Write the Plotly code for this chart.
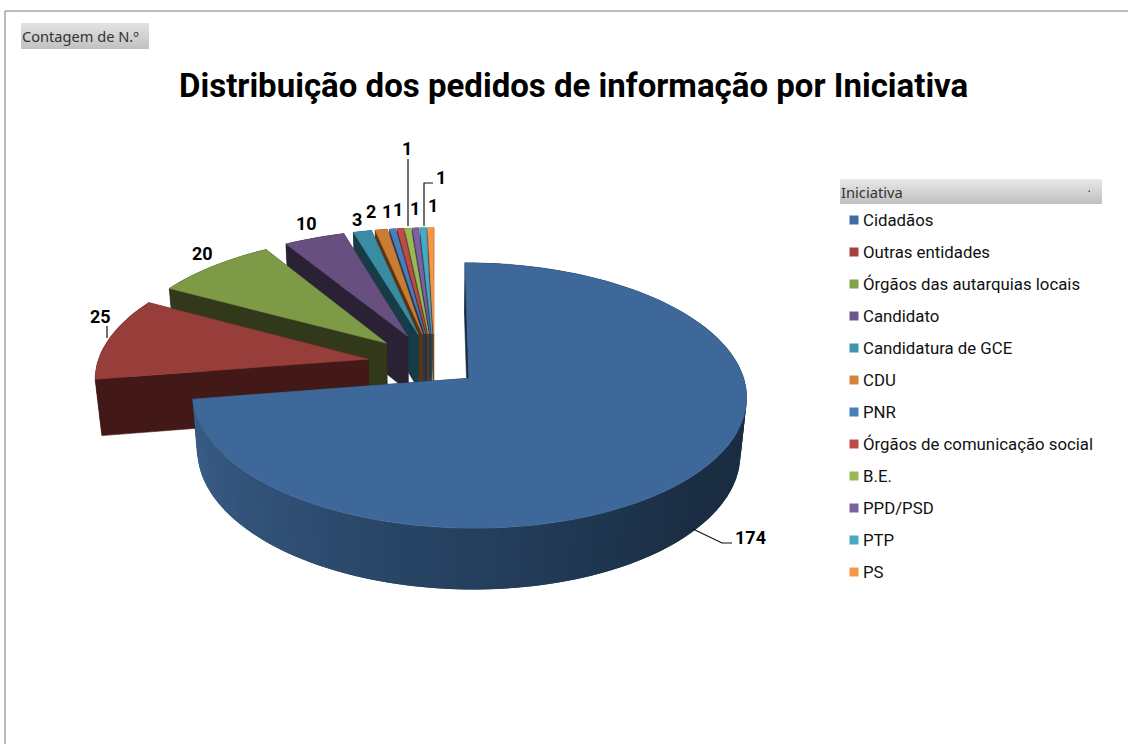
import math
import plotly.graph_objects as go

categories = ["Cidadãos", "Outras entidades", "Órgãos das autarquias locais", "Candidato",
              "Candidatura de GCE", "CDU", "PNR", "Órgãos de comunicação social",
              "B.E.", "PPD/PSD", "PTP", "PS"]
values = [174, 25, 20, 10, 3, 2, 1, 1, 1, 1, 1, 1]
top_colors = ["#3E6899", "#973E3B", "#7D9A46", "#674F80", "#3A8CA3", "#C97D33",
              "#4A7EBB", "#BE4B48", "#98B954", "#7D60A0", "#46AAC5", "#F79646"]
wall_colors = ["#1A2D42", "#421917", "#31391A", "#2B2135", "#173C45", "#5A3512",
               "#20375A", "#52201F", "#425024", "#362A46", "#1E4A56", "#6B411E"]
legend_colors = ["#3F6CA3", "#A5413E", "#85A24A", "#6E5590", "#3E95AD", "#D6843A",
                 "#4A7EBB", "#BE4B48", "#98B954", "#7D60A0", "#46AAC5", "#F79646"]
# (x, y) of each value label in the picture
label_pos = [(750, 537), (100, 316), (202, 253), (306, 223), (357, 219), (371, 211),
             (387, 211), (398, 209), (407, 148), (415, 208), (441, 177), (433, 205)]
leaders = [[(693, 529), (722, 543), (732, 543)], [(107, 326), (107, 338)],
           [(408, 159), (408, 226)], [(424, 226), (424, 183), (433, 183)]]

TITLE = "Distribuição dos pedidos de informação por Iniciativa"
FILTER = "Contagem de N.º"
LEGEND_TITLE = "Iniciativa"

CX, CY, A, B, H, K, M = 434.5, 364.5, 271, 127, 57, 0.128, 0.02
PULLS = [0.165] + [0.25] * 11


def project(X, Y, t=0.0):
    w = 1 / (1 + K * Y + M * t)
    return CX + A * X * w, CY + (-B * Y + H * t) * w


def add_poly(fig, pts, color, name, lw=0.6):
    x = [p[0] for p in pts] + [pts[0][0]]
    y = [p[1] for p in pts] + [pts[0][1]]
    fig.add_trace(go.Scatter(x=x, y=y, mode="lines", fill="toself", fillcolor=color,
                             line=dict(color=color, width=lw), hoverinfo="skip",
                             showlegend=False, name=name))


def blue_side(deg):
    anchors = [(60, (26, 45, 66)), (130, (26, 45, 66)), (175, (36, 62, 92)),
               (225, (50, 82, 120)), (262, (60, 95, 138))]
    if deg <= anchors[0][0]:
        c = anchors[0][1]
    else:
        c = anchors[-1][1]
        for (a0, c0), (a1, c1) in zip(anchors, anchors[1:]):
            if a0 <= deg <= a1:
                f = (deg - a0) / (a1 - a0)
                c = tuple(c0[i] + (c1[i] - c0[i]) * f for i in range(3))
                break
    return "rgb(%d,%d,%d)" % tuple(c)


fig = go.Figure()

total = sum(values)
edges = [0.0]
for v in values:
    edges.append(edges[-1] + v / total * 360)

for i in reversed(range(len(values))):
    s, e = edges[i], edges[i + 1]
    mid = math.radians((s + e) / 2)
    ox, oy = PULLS[i] * math.sin(mid), PULLS[i] * math.cos(mid)
    n = max(3, int((e - s) / 1.5))
    degs = [s + (e - s) * j / n for j in range(n + 1)]
    rim = [(ox + math.sin(math.radians(d)), oy + math.cos(math.radians(d))) for d in degs]
    tip = (ox, oy)
    name = categories[i]
    # radial walls
    for p in (rim[-1], rim[0]):
        add_poly(fig, [project(*tip), project(*p), project(*p, 1), project(*tip, 1)],
                 wall_colors[i], name)
    # outer rim: each band overlaps the next one so no seams show
    for j in range(n):
        col = blue_side(degs[j]) if i == 0 else wall_colors[i]
        k = min(j + 2, n)
        add_poly(fig, [project(*rim[q]) for q in range(j, k + 1)] +
                 [project(*rim[q], 1) for q in range(k, j - 1, -1)], col, name, lw=0)
    # top face
    add_poly(fig, [project(*tip)] + [project(*p) for p in rim], top_colors[i], name)

# leader lines
for pts in leaders:
    fig.add_trace(go.Scatter(x=[p[0] for p in pts], y=[p[1] for p in pts], mode="lines",
                             line=dict(color="#111111", width=1.2), hoverinfo="skip",
                             showlegend=False))

# legend swatches and text
lx = [854] * len(categories)
ly = [220 + 32 * i for i in range(len(categories))]
fig.add_trace(go.Scatter(x=lx, y=ly, mode="markers", hoverinfo="skip", showlegend=False,
                         marker=dict(symbol="square", size=9, color=legend_colors,
                                     line=dict(width=0))))

annotations = []
for i, name in enumerate(categories):
    annotations.append(dict(x=861, y=ly[i], text=name, showarrow=False, xanchor="left",
                            yanchor="middle", font=dict(family="Roboto", size=16.8, color="#111111")))
for v, (x, y) in zip(values, label_pos):
    annotations.append(dict(x=x, y=y, text="<b>%d</b>" % v, showarrow=False, xanchor="center",
                            yanchor="middle", font=dict(family="Roboto", size=18, color="#000000")))
annotations.append(dict(x=573.5, y=85, text="<b>%s</b>" % TITLE, showarrow=False, xanchor="center",
                        yanchor="middle", font=dict(family="Roboto", size=33, color="#000000")))
annotations.append(dict(x=20, y=36, text=FILTER, showarrow=False, xanchor="left", yanchor="middle",
                        font=dict(family="Noto Sans", size=14.6, color="#333333")))
annotations.append(dict(x=839, y=192, text=LEGEND_TITLE, showarrow=False, xanchor="left",
                        yanchor="middle", font=dict(family="Noto Sans", size=14.7, color="#333333")))

shapes = [
    dict(type="line", x0=5, x1=1128, y0=11, y1=11, line=dict(color="#A6A6A6", width=1.5)),
    dict(type="line", x0=5, x1=5, y0=11, y1=744, line=dict(color="#A6A6A6", width=1.5)),
]


def gradient(x0, x1, y0, y1, c0, c1):
    rows = int(y1 - y0)
    for r in range(rows):
        f = r / max(1, rows - 1)
        c = tuple(int(c0[q] + (c1[q] - c0[q]) * f) for q in range(3))
        shapes.append(dict(type="rect", x0=x0, x1=x1, y0=y0 + r, y1=y0 + r + 1, layer="below",
                           line=dict(width=0), fillcolor="rgb(%d,%d,%d)" % c))


gradient(21, 149, 23, 49, (226, 226, 226), (194, 194, 194))
gradient(840, 1102, 179, 204, (232, 232, 232), (192, 192, 192))
shapes.append(dict(type="rect", x0=1088.5, x1=1090, y0=190.5, y1=192, line=dict(width=0),
                   fillcolor="#555555"))

fig.update_layout(
    width=1128, height=744, margin=dict(l=0, r=0, t=0, b=0, pad=0),
    paper_bgcolor="white", plot_bgcolor="white", showlegend=False,
    xaxis=dict(range=[0, 1128], visible=False, fixedrange=True),
    yaxis=dict(range=[744, 0], visible=False, fixedrange=True),
    annotations=annotations, shapes=shapes,
)
fig.write_html("out.html", config={"displayModeBar": False},
               post_script="document.body.style.margin='0';document.body.style.overflow='hidden';")
